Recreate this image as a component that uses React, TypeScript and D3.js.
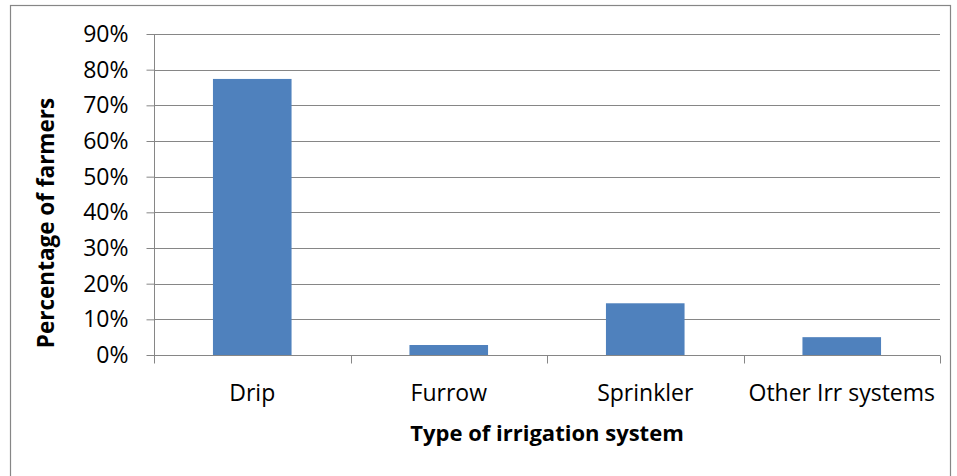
import React, { useEffect, useRef } from 'react';
import * as d3 from 'd3';

const categories = ['Drip', 'Furrow', 'Sprinkler', 'Other Irr systems'];
const shares = [0.774, 0.028, 0.145, 0.05];
const yTicks = [0, 0.1, 0.2, 0.3, 0.4, 0.5, 0.6, 0.7, 0.8, 0.9];

const W = 957;
const H = 476;
const FONT = '"Open Sans", Lato, sans-serif';

export default function App() {
  const svgRef = useRef<SVGSVGElement>(null);

  useEffect(() => {
    if (!svgRef.current) return;
    const svg = d3.select(svgRef.current);
    svg.selectAll('*').remove();

    const plot = { left: 154, right: 940, top: 34, bottom: 355 };

    // outer frame
    svg.append('rect')
      .attr('x', 10.5).attr('y', 5.5)
      .attr('width', 940).attr('height', 480)
      .attr('fill', '#fff')
      .attr('stroke', '#868686')
      .attr('stroke-width', 1.2);

    const x = d3.scaleBand<string>()
      .domain(categories)
      .range([plot.left, plot.right])
      .paddingInner(0.6)
      .paddingOuter(0.3);

    const y = d3.scaleLinear()
      .domain([0, 0.9])
      .range([plot.bottom, plot.top]);

    // gridlines
    svg.append('g')
      .selectAll('line')
      .data(yTicks.filter(t => t > 0))
      .enter().append('line')
      .attr('x1', plot.left).attr('x2', plot.right)
      .attr('y1', d => Math.round(y(d)) + 0.5)
      .attr('y2', d => Math.round(y(d)) + 0.5)
      .attr('stroke', '#868686')
      .attr('stroke-width', 1);

    // bars
    svg.append('g')
      .selectAll('rect')
      .data(categories)
      .enter().append('rect')
      .attr('x', d => x(d)!)
      .attr('width', x.bandwidth())
      .attr('y', (d, i) => y(shares[i]))
      .attr('height', (d, i) => y(0) - y(shares[i]))
      .attr('fill', '#4F81BD');

    // y axis
    const yAxis = svg.append('g')
      .attr('transform', `translate(${plot.left + 0.5},0)`)
      .call(d3.axisLeft(y).tickValues(yTicks).tickSize(8).tickPadding(18)
        .tickFormat(d => `${Math.round(+d * 100)}%`));
    yAxis.select('.domain').attr('stroke', '#868686').attr('d', `M0,${plot.top}V${plot.bottom + 8}`);
    yAxis.selectAll('.tick line').attr('stroke', '#868686');
    yAxis.selectAll('.tick text')
      .attr('fill', '#000')
      .style('font-family', FONT)
      .style('font-size', '23px');

    // x axis
    const xAxis = svg.append('g')
      .attr('transform', `translate(0,${plot.bottom + 0.5})`);
    xAxis.append('line')
      .attr('x1', plot.left).attr('x2', plot.right)
      .attr('stroke', '#868686');
    const bounds = d3.range(categories.length + 1).map(i => plot.left + i * x.step());
    xAxis.selectAll('.xt')
      .data(bounds)
      .enter().append('line')
      .attr('class', 'xt')
      .attr('x1', d => Math.round(d) + 0.5).attr('x2', d => Math.round(d) + 0.5)
      .attr('y1', 0).attr('y2', 8)
      .attr('stroke', '#868686');
    xAxis.selectAll('.xl')
      .data(categories)
      .enter().append('text')
      .attr('class', 'xl')
      .attr('x', d => x(d)! + x.bandwidth() / 2)
      .attr('y', 45)
      .attr('text-anchor', 'middle')
      .style('font-family', FONT)
      .style('font-size', '23px')
      .text(d => d);

    // axis titles
    svg.append('text')
      .attr('transform', `translate(54,223) rotate(-90)`)
      .attr('text-anchor', 'middle')
      .style('font-family', FONT)
      .style('font-size', '22.5px')
      .style('font-weight', 'bold')
      .text('Percentage of farmers');

    svg.append('text')
      .attr('x', (plot.left + plot.right) / 2)
      .attr('y', 441)
      .attr('text-anchor', 'middle')
      .style('font-family', FONT)
      .style('font-size', '22px')
      .style('font-weight', 'bold')
      .text('Type of irrigation system');
  }, []);

  return (
    <svg
      ref={svgRef}
      width={W}
      height={H}
      style={{ position: 'fixed', left: 0, top: 0, background: '#fff' }}
    />
  );
}
